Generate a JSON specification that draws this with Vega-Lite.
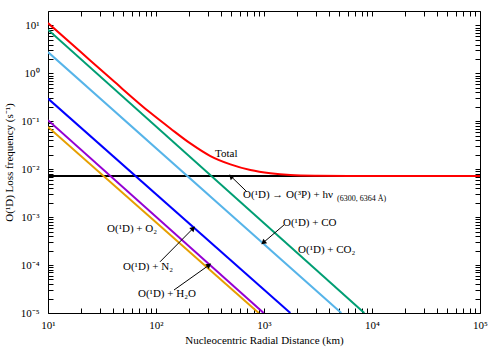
{
  "$schema": "https://vega.github.io/schema/vega-lite/v6.json",
  "width": 432,
  "height": 302,
  "autosize": "none",
  "padding": {"left": 48, "top": 11, "right": 20, "bottom": 37},
  "background": "white",
  "config": {
    "view": {"stroke": "black", "strokeWidth": 1},
    "axis": {"domain": false, "grid": false, "ticks": true, "tickColor": "black", "tickWidth": 1, "labelFlush": false, "labelOverlap": false}
  },
  "resolve": {"axis": {"x": "independent", "y": "independent"}},
  "layer": [
    {
      "data": {"values": [{"r": 10, "v": 0.0072}, {"r": 100000, "v": 0.0072}]},
      "mark": {"type": "line", "color": "black", "strokeWidth": 2, "clip": true},
      "encoding": {
        "x": {"field": "r", "type": "quantitative",
          "scale": {"type": "log", "domain": [10, 100000], "nice": false},
          "axis": {"orient": "top", "labels": false, "title": null, "tickSize": -5,
            "values": [10,20,30,40,50,60,70,80,90,100,200,300,400,500,600,700,800,900,1000,2000,3000,4000,5000,6000,7000,8000,9000,10000,20000,30000,40000,50000,60000,70000,80000,90000,100000]}},
        "y": {"field": "v", "type": "quantitative",
          "scale": {"type": "log", "domain": [0.00001, 20], "nice": false},
          "axis": {"orient": "right", "labels": false, "title": null, "tickSize": -5,
            "values": [0.00001,0.00002,0.00003,0.00004,0.00005,0.00006,0.00007,0.00008,0.00009,0.0001,0.0002,0.0003,0.0004,0.0005,0.0006,0.0007,0.0008,0.0009,0.001,0.002,0.003,0.004,0.005,0.006,0.007,0.008,0.009,0.01,0.02,0.03,0.04,0.05,0.06,0.07,0.08,0.09,0.1,0.2,0.3,0.4,0.5,0.6,0.7,0.8,0.9,1,2,3,4,5,6,7,8,9,10]}}
      }
    },
    {
      "data": {"values": [
        {"s": "O2", "r": 10, "v": 0.0764}, {"s": "O2", "r": 893, "v": 0.00001},
        {"s": "H2O", "r": 10, "v": 0.1054}, {"s": "H2O", "r": 993, "v": 0.00001},
        {"s": "N2", "r": 10, "v": 0.298}, {"s": "N2", "r": 1754, "v": 0.00001},
        {"s": "CO", "r": 10, "v": 2.78}, {"s": "CO", "r": 5200, "v": 0.00001},
        {"s": "CO2", "r": 10, "v": 8.14}, {"s": "CO2", "r": 8490, "v": 0.00001}
      ]},
      "mark": {"type": "line", "strokeWidth": 2, "clip": true},
      "encoding": {
        "x": {"field": "r", "type": "quantitative",
          "axis": {"orient": "bottom", "tickSize": -5,
            "values": [10,20,30,40,50,60,70,80,90,100,200,300,400,500,600,700,800,900,1000,2000,3000,4000,5000,6000,7000,8000,9000,10000,20000,30000,40000,50000,60000,70000,80000,90000,100000],
            "labelExpr": "abs(log(datum.value)/LN10 - round(log(datum.value)/LN10)) < 1e-6 ? '10' + ['¹','²','³','⁴','⁵'][round(log(datum.value)/LN10)-1] : ''",
            "labelPadding": 11,
            "labelFont": "Liberation Serif", "labelFontSize": 11, "labelColor": "black",
            "title": "Nucleocentric Radial Distance (km)", "titleFont": "Liberation Serif", "titleFontSize": 11, "titleFontWeight": "normal", "titleColor": "black", "titlePadding": 4}},
        "y": {"field": "v", "type": "quantitative",
          "axis": {"orient": "left", "tickSize": -5,
            "values": [0.00001,0.00002,0.00003,0.00004,0.00005,0.00006,0.00007,0.00008,0.00009,0.0001,0.0002,0.0003,0.0004,0.0005,0.0006,0.0007,0.0008,0.0009,0.001,0.002,0.003,0.004,0.005,0.006,0.007,0.008,0.009,0.01,0.02,0.03,0.04,0.05,0.06,0.07,0.08,0.09,0.1,0.2,0.3,0.4,0.5,0.6,0.7,0.8,0.9,1,2,3,4,5,6,7,8,9,10],
            "labelExpr": "abs(log(datum.value)/LN10 - round(log(datum.value)/LN10)) < 1e-6 ? '10' + ['⁻⁵','⁻⁴','⁻³','⁻²','⁻¹','⁰','¹'][round(log(datum.value)/LN10)+5] : ''",
            "labelPadding": 14,
            "labelFont": "Liberation Serif", "labelFontSize": 11, "labelColor": "black",
            "title": "O(¹D) Loss frequency (s⁻¹)", "titleFont": "Liberation Serif", "titleFontSize": 11, "titleFontWeight": "normal", "titleColor": "black", "titlePadding": 6}},
        "color": {"field": "s", "type": "nominal", "legend": null,
          "scale": {"domain": ["O2", "H2O", "N2", "CO", "CO2"], "range": ["#E69F00", "#9400D3", "#0000FF", "#56B4E9", "#009E73"]}}
      }
    },
    {
      "data": {"values": [
        {"r": 10, "v": 11.2}, {"r": 20, "v": 2.81}, {"r": 40, "v": 0.707}, {"r": 88.8, "v": 0.150},
        {"r": 136, "v": 0.0708}, {"r": 208, "v": 0.0345}, {"r": 319, "v": 0.0188}, {"r": 489, "v": 0.0126},
        {"r": 748, "v": 0.0096}, {"r": 1146, "v": 0.0082}, {"r": 1755, "v": 0.00755}, {"r": 3100, "v": 0.0073},
        {"r": 6000, "v": 0.00722}, {"r": 100000, "v": 0.0072}
      ]},
      "mark": {"type": "line", "color": "#FF0000", "strokeWidth": 2, "interpolate": "monotone", "clip": true},
      "encoding": {
        "x": {"field": "r", "type": "quantitative", "axis": null},
        "y": {"field": "v", "type": "quantitative", "axis": null}
      }
    },
    {
      "data": {"values": [
        {"id": "photon", "x": 692, "y": 0.0034, "x2": 494, "y2": 0.0071},
        {"id": "CO", "x": 1531, "y": 0.000686, "x2": 984, "y2": 0.000293},
        {"id": "N2", "x": 109, "y": 0.000117, "x2": 221, "y2": 0.000585},
        {"id": "H2O", "x": 146.8, "y": 0.0000302, "x2": 310, "y2": 0.0001}
      ]},
      "layer": [
        {
          "mark": {"type": "rule", "color": "black", "strokeWidth": 1},
          "encoding": {
            "x": {"field": "x", "type": "quantitative", "axis": null},
            "y": {"field": "y", "type": "quantitative", "axis": null},
            "x2": {"field": "x2"},
            "y2": {"field": "y2"}
          }
        },
        {
          "transform": [{"filter": "datum.id == 'photon'"}],
          "mark": {"type": "point", "shape": "triangle-up", "filled": true, "color": "black", "size": 35, "angle": 314, "opacity": 1},
          "encoding": {"x": {"field": "x2", "type": "quantitative", "axis": null}, "y": {"field": "y2", "type": "quantitative", "axis": null}}
        },
        {
          "transform": [{"filter": "datum.id == 'CO'"}],
          "mark": {"type": "point", "shape": "triangle-up", "filled": true, "color": "black", "size": 35, "angle": 230, "opacity": 1},
          "encoding": {"x": {"field": "x2", "type": "quantitative", "axis": null}, "y": {"field": "y2", "type": "quantitative", "axis": null}}
        },
        {
          "transform": [{"filter": "datum.id == 'N2'"}],
          "mark": {"type": "point", "shape": "triangle-up", "filled": true, "color": "black", "size": 35, "angle": 45, "opacity": 1},
          "encoding": {"x": {"field": "x2", "type": "quantitative", "axis": null}, "y": {"field": "y2", "type": "quantitative", "axis": null}}
        },
        {
          "transform": [{"filter": "datum.id == 'H2O'"}],
          "mark": {"type": "point", "shape": "triangle-up", "filled": true, "color": "black", "size": 35, "angle": 54, "opacity": 1},
          "encoding": {"x": {"field": "x2", "type": "quantitative", "axis": null}, "y": {"field": "y2", "type": "quantitative", "axis": null}}
        }
      ]
    },
    {
      "data": {"values": [
        {"label": "Total", "x": 352, "y": 0.0207},
        {"label": "O(¹D) → O(³P) + hν", "x": 640, "y": 0.0029},
        {"label": "O(¹D) + CO", "x": 1500, "y": 0.000743},
        {"label": "O(¹D) + CO₂", "x": 2066, "y": 0.000206},
        {"label": "O(¹D) + O₂", "x": 35.2, "y": 0.000557},
        {"label": "O(¹D) + N₂", "x": 49.5, "y": 0.0000925},
        {"label": "O(¹D) + H₂O", "x": 68.1, "y": 0.0000255}
      ]},
      "mark": {"type": "text", "align": "left", "baseline": "middle", "font": "Liberation Serif", "fontSize": 11, "color": "black"},
      "encoding": {
        "x": {"field": "x", "type": "quantitative", "axis": null},
        "y": {"field": "y", "type": "quantitative", "axis": null},
        "text": {"field": "label"}
      }
    },
    {
      "data": {"values": [{"label": "(6300, 6364 Å)", "x": 4750, "y": 0.00235}]},
      "mark": {"type": "text", "align": "left", "baseline": "middle", "font": "Liberation Serif", "fontSize": 8, "color": "black"},
      "encoding": {
        "x": {"field": "x", "type": "quantitative", "axis": null},
        "y": {"field": "y", "type": "quantitative", "axis": null},
        "text": {"field": "label"}
      }
    }
  ]
}
